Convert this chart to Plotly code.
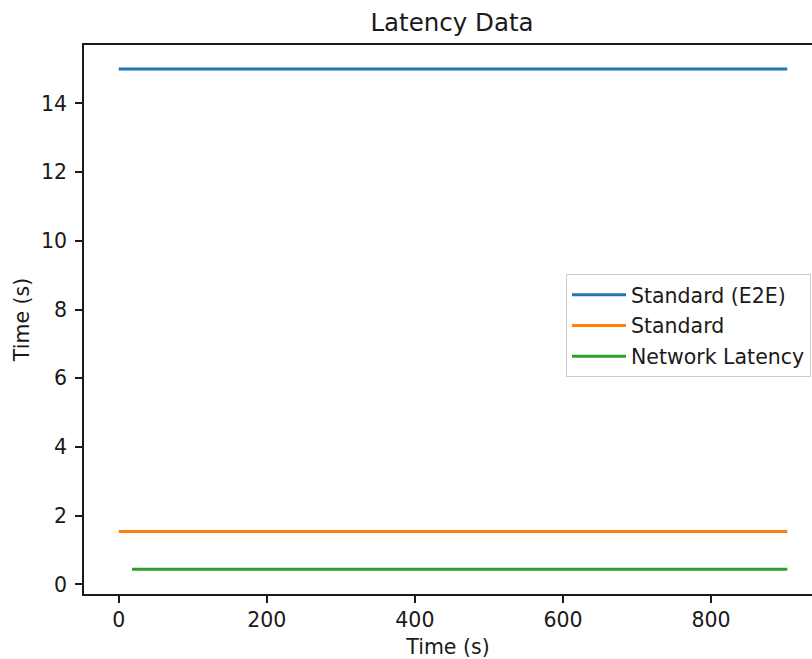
import plotly.graph_objects as go

# Data
time_e2e = [0, 150, 300, 450, 600, 750, 903]
standard_e2e = [15.0, 15.0, 15.0, 15.0, 15.0, 15.0, 15.0]

time_std = [0, 150, 300, 450, 600, 750, 903]
standard = [1.54, 1.54, 1.54, 1.54, 1.54, 1.54, 1.54]

time_net = [18, 150, 300, 450, 600, 750, 903]
network_latency = [0.44, 0.44, 0.44, 0.44, 0.44, 0.44, 0.44]

x_ticks = [0, 200, 400, 600, 800]
y_ticks = [0, 2, 4, 6, 8, 10, 12, 14]

FONT = "DejaVu Sans"
TXT = "#1a1a1a"

fig = go.Figure()
fig.add_trace(go.Scatter(x=time_e2e, y=standard_e2e, mode="lines", name="Standard (E2E)",
                         line=dict(color="#1f77b4", width=3), legendgroup="a"))
fig.add_trace(go.Scatter(x=time_std, y=standard, mode="lines", name="Standard",
                         line=dict(color="#ff7f0e", width=3), legendgroup="b"))
fig.add_trace(go.Scatter(x=time_net, y=network_latency, mode="lines", name="Network Latency",
                         line=dict(color="#2ca02c", width=3), legendgroup="c"))

axis_common = dict(
    showgrid=False, zeroline=False, showline=True, linecolor=TXT, linewidth=1.5,
    ticks="outside", ticklen=7, tickwidth=1.5, tickcolor=TXT,
    tickfont=dict(family=FONT, size=20.5, color=TXT), automargin=False,
)

fig.update_layout(
    width=812, height=659, autosize=False,
    margin=dict(l=84, r=0, t=45, b=65),
    paper_bgcolor="white", plot_bgcolor="white",
    font=dict(family=FONT, size=20.5, color=TXT),
    title=dict(text="Latency Data", x=452 / 812, xref="container", xanchor="center",
               y=1 - 22 / 659, yref="container", yanchor="middle",
               font=dict(family=FONT, size=24.5, color=TXT)),
    xaxis=dict(range=[-46.9, 936.4], tickvals=x_ticks, mirror=True,
               title=dict(text="Time (s)", font=dict(family=FONT, size=20.5, color=TXT), standoff=10),
               ticklabelstandoff=0, **axis_common),
    yaxis=dict(range=[-0.28, 15.70], tickvals=y_ticks, mirror=False,
               title=dict(text="Time (s)", font=dict(family=FONT, size=20.5, color=TXT), standoff=6),
               ticklabelstandoff=4, **axis_common),
    legend=dict(x=(811 - 84) / 728, xanchor="right", y=(594 - 274) / 549, yanchor="top",
                bgcolor="rgba(255,255,255,0.8)", bordercolor="#cccccc", borderwidth=1,
                font=dict(family=FONT, size=20.5, color=TXT),
                traceorder="grouped", tracegroupgap=1, itemwidth=54),
    showlegend=True,
)

fig.write_html("out.html", post_script="document.body.style.margin='0px';",
               config={"displayModeBar": False})
